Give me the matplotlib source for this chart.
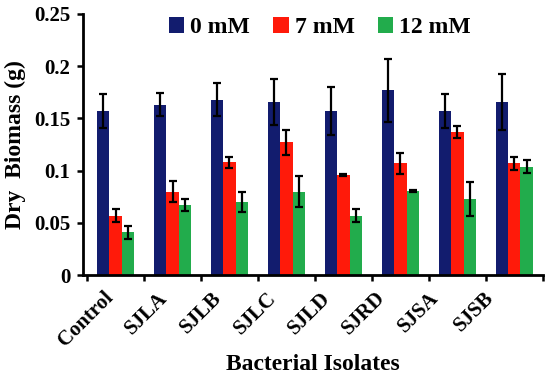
import numpy as np
import matplotlib
matplotlib.use("Agg")
import matplotlib.pyplot as plt
import matplotlib.transforms as mtransforms

isolates = ["Control", "SJLA", "SJLB", "SJLC", "SJLD", "SJRD", "SJSA", "SJSB"]
series = ["0 mM", "7 mM", "12 mM"]
mean_0 = [0.157, 0.163, 0.168, 0.166, 0.157, 0.177, 0.157, 0.166]
err_0 = [0.016, 0.011, 0.016, 0.022, 0.023, 0.030, 0.016, 0.027]
mean_7 = [0.057, 0.080, 0.108, 0.127, 0.096, 0.107, 0.137, 0.107]
err_7 = [0.006, 0.010, 0.005, 0.012, 0.001, 0.010, 0.006, 0.006]
mean_12 = [0.041, 0.067, 0.070, 0.080, 0.057, 0.081, 0.073, 0.104]
err_12 = [0.006, 0.006, 0.010, 0.015, 0.006, 0.001, 0.016, 0.006]

colors = ["#121c6e", "#ff1a0a", "#22ac4c"]

plt.rcParams['font.family'] = ['Liberation Serif', 'DejaVu Serif']
plt.rcParams['font.weight'] = 'bold'

fig = plt.figure(figsize=(5.5, 3.78), dpi=100)
ax = fig.add_axes([0.151, 0.272, 0.836, 0.691])

x = np.arange(len(isolates))
w = 0.215
for i, (m, e) in enumerate([(mean_0, err_0), (mean_7, err_7), (mean_12, err_12)]):
    ax.bar(x + (i - 1) * w, m, w, color=colors[i], label=series[i],
           yerr=e, capsize=2.8, error_kw=dict(ecolor="black", elinewidth=1.6, capthick=1.6))

ax.set_ylim(0, 0.25)
ax.set_xlim(-0.57, 7.5)
ax.set_yticks([0, 0.05, 0.1, 0.15, 0.2, 0.25])
ax.set_yticklabels(["0", "0.05", "0.1", "0.15", "0.2", "0.25"], fontsize=15, fontweight="bold")
ax.set_xticks(x)
ax.tick_params(axis="x", which="major", length=0, pad=7)
ax.set_xticks(np.arange(-0.5, 8.0, 1.0), minor=True)
ax.tick_params(axis="x", which="minor", length=4, width=1.8, direction="out")
ax.tick_params(axis="y", length=4, width=1.8, direction="out", pad=5)
ax.set_xticklabels(isolates, rotation=45, ha="right", rotation_mode="anchor", fontsize=15, fontweight="bold")

# in the original the labels sit a bit left of the groups, drifting more to the right
for i, lbl in enumerate(ax.get_xticklabels()):
    shift = mtransforms.ScaledTranslation((-12 - 2.7 * i) / 100, -0.03, fig.dpi_scale_trans)
    lbl.set_transform(lbl.get_transform() + shift)

for s in ["top", "right"]:
    ax.spines[s].set_visible(False)
ax.spines["left"].set_linewidth(2)
ax.spines["bottom"].set_linewidth(2)

ax.set_ylabel("Dry  Biomass (g)", fontsize=17, fontweight="bold", labelpad=6)
ax.set_xlabel("Bacterial Isolates", fontsize=17, fontweight="bold", labelpad=2)

ax.legend(loc="upper center", bbox_to_anchor=(0.515, 1.07), ncol=3, frameon=False,
          prop=dict(size=17, weight="bold"), handlelength=0.65, handleheight=0.65,
          handletextpad=0.25, columnspacing=1.0)

fig.savefig("out.png", dpi=100)
